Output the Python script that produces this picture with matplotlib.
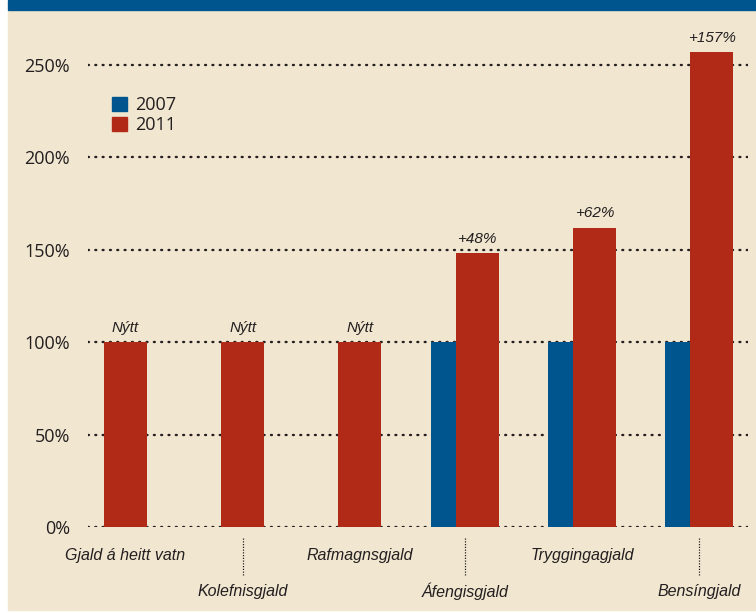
import matplotlib.pyplot as plt
import matplotlib.patches as mpatches
import numpy as np

categories = ["Gjald á heitt vatn", "Kolefnisgjald", "Rafmagnsgjald",
              "Áfengisgjald", "Tryggingagjald", "Bensíngjald"]
vals_2007 = [None, None, None, 100, 100, 100]
vals_2011 = [100, 100, 100, 148, 162, 257]
changes = ["Nýtt", "Nýtt", "Nýtt", "+48%", "+62%", "+157%"]
yticks = [0, 50, 100, 150, 200, 250]

BLUE = "#00558F"
RED = "#B02A17"
BG = "#F1E6D0"
TXT = "#231F20"

plt.rcParams['font.family'] = ['Open Sans', 'DejaVu Sans']
narrow = ['Liberation Sans Narrow', 'Liberation Sans', 'DejaVu Sans']

fig = plt.figure(figsize=(7.56, 6.13), dpi=100)
fig.patch.set_facecolor("white")
# beige panel + blue top band
fig.patches.append(mpatches.Rectangle((8/756, 3/613), 748/756, 600/613,
                                      transform=fig.transFigure, color=BG, zorder=-10))
fig.patches.append(mpatches.Rectangle((8/756, 603/613), 748/756, 10/613,
                                      transform=fig.transFigure, color=BLUE, zorder=-9))

ax = fig.add_axes([88/756, 86/613, 660/756, 499/613])
ax.set_facecolor("none")
ax.set_xlim(-0.213, 5.418)
ax.set_ylim(0, 270)
for s in ax.spines.values():
    s.set_visible(False)

x = np.arange(len(categories))
red_off, red_w = 0.107, 0.367
blue_off, blue_w = -0.183, 0.213

for yv in yticks:
    ax.axhline(yv, color=TXT, lw=1.7, linestyle=(0, (0.4, 2.7)),
               dash_capstyle='round', zorder=1)

ax.bar(x + red_off, vals_2011, width=red_w, color=RED, zorder=2, label="2011")
bx = [xi + blue_off for xi, v in zip(x, vals_2007) if v is not None]
bv = [v for v in vals_2007 if v is not None]
ax.bar(bx, bv, width=blue_w, color=BLUE, zorder=2, label="2007")

for xi, v, c in zip(x, vals_2011, changes):
    ax.text(xi + red_off, v + 4, c, ha='center', va='bottom', style='italic',
            fontsize=11, color=TXT, family=narrow)

ax.set_yticks(yticks)
ax.set_yticklabels([f"{t}%" for t in yticks], fontsize=13, color=TXT)
ax.tick_params(axis='y', length=0, pad=13)
ax.set_xticks([])

# category labels, alternating rows
for i, name in enumerate(categories):
    if vals_2007[i] is None:
        lx = x[i] + red_off
    else:
        lx = x[i] + (blue_off - blue_w / 2 + red_off + red_w / 2) / 2
    if i % 2 == 0:
        ax.text(lx, -15.2, name, ha='center', va='center', style='italic',
                fontsize=11.5, color=TXT, family=narrow, clip_on=False)
    else:
        ax.plot([lx, lx], [-6, -26], color=TXT, lw=0.9,
                linestyle=(0, (1, 1.2)), clip_on=False)
        ax.text(lx, -35, name, ha='center', va='center', style='italic',
                fontsize=11.5, color=TXT, family=narrow, clip_on=False)

h_blue = mpatches.Patch(color=BLUE, label="2007")
h_red = mpatches.Patch(color=RED, label="2011")
ax.legend(handles=[h_blue, h_red], loc='upper left',
          bbox_to_anchor=(96/756, 1 - 80/613), bbox_transform=fig.transFigure,
          frameon=False, fontsize=13, handlelength=0.8, handleheight=0.8,
          handletextpad=0.45, labelspacing=0.1, labelcolor=TXT)

plt.savefig("out.png", dpi=100, facecolor=fig.get_facecolor())
